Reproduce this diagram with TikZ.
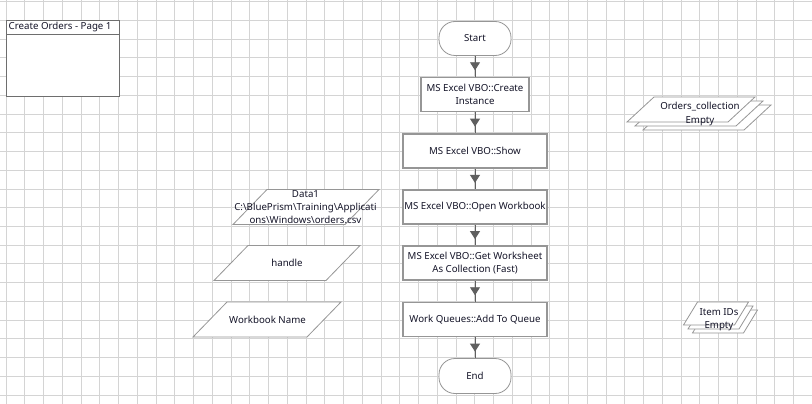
\documentclass[tikz,border=0pt]{standalone}
\usepackage{fontspec}
\setmainfont{Noto Sans}
\usetikzlibrary{arrows.meta,decorations.markings}
\definecolor{gridc}{RGB}{212,212,212}
\definecolor{boxc}{RGB}{150,150,150}
\definecolor{termc}{RGB}{150,150,150}
\definecolor{arrc}{RGB}{95,95,95}
\definecolor{titlec}{RGB}{110,110,110}
\definecolor{txtc}{RGB}{20,20,40}
% parallelogram: cx, cy, top width, height, slant
\newcommand\dataPara[6][]{%
  \draw[datashape,#1] ({#2-#4/2+#6/2},{#3-#5/2}) -- ({#2+#4/2+#6/2},{#3-#5/2})
    -- ({#2+#4/2-#6/2},{#3+#5/2}) -- ({#2-#4/2-#6/2},{#3+#5/2}) -- cycle;}
\begin{document}
\begin{tikzpicture}[x=1pt,y=-1pt,
  every node/.style={text=txtc},
  font=\fontsize{9.7}{13.3}\selectfont,
  proc/.style={draw=boxc, line width=1.6pt, fill=white, minimum width=144pt,
    minimum height=34pt, inner sep=0pt, align=center},
  term/.style={draw=termc, line width=0.8pt, rounded corners=16pt, fill=white,
    minimum width=72pt, minimum height=34pt, inner sep=0pt, align=center},
  link/.style={draw=arrc, line width=0.9pt, postaction={decorate},
    decoration={markings, mark=at position 0.5 with {\arrow[xshift=4pt]{Triangle[width=10pt,length=8pt]}}}},
  datashape/.style={draw=termc, line width=0.8pt, fill=white},
  lbl/.style={inner sep=0pt, align=center}
]
\useasboundingbox (0,0) rectangle (812,404);
\fill[white] (0,0) rectangle (812,404);
% grid
\foreach \k in {0,...,42} \draw[gridc, line width=1pt] ({6.2+18.75*\k},0) -- ({6.2+18.75*\k},404);
\foreach \k in {0,...,21} \draw[gridc, line width=1pt] (0,{1.7+18.73*\k}) -- (812,{1.7+18.73*\k});

% title box
\draw[titlec, line width=0.9pt, fill=white] (6.3,20.3) rectangle (119.3,96);
\draw[titlec, line width=0.9pt] (6.3,34) -- (119.3,34);
\node[lbl, anchor=west] (title) at (8.5,27.3) {Create Orders - Page 1};

% flow
\node[term] (start) at (475,38.5) {Start};
\node[proc, minimum width=108pt] (b1) at (475,94.5) {MS Excel VBO::Create\\Instance};
\node[proc] (b2) at (475,150.7) {MS Excel VBO::Show};
\node[proc] (b3) at (475,207) {MS Excel VBO::Open Workbook};
\node[proc] (b4) at (475,263.2) {MS Excel VBO::Get Worksheet\\As Collection (Fast)};
\node[proc] (b5) at (475,319.3) {Work Queues::Add To Queue};
\node[term, minimum height=35pt] (end) at (475,376) {End};

\draw[link] (start) -- (b1);
\draw[link] (b1) -- (b2);
\draw[link] (b2) -- (b3);
\draw[link] (b3) -- (b4);
\draw[link] (b4) -- (b5);
\draw[link] (b5) -- (end);

% data items
\dataPara{306}{207}{112}{35}{34}
\node[lbl] (data1) at (305.5,207) {Data1\\C:\textbackslash BluePrism\textbackslash Training\textbackslash Applicati\\ons\textbackslash Windows\textbackslash orders.csv};
\dataPara{287}{263}{112}{35}{34}
\node[lbl] (handle) at (287,263) {handle};
\dataPara{267}{319.5}{114}{35}{34}
\node[lbl] (wbname) at (267.5,319.5) {Workbook Name};

% collections
\dataPara{707}{117.5}{101}{25}{27}
\dataPara{699}{113.5}{101}{25}{27}
\dataPara{691}{109.5}{101}{25}{27}
\node[lbl, font=\fontsize{9.7}{14}\selectfont] (orders) at (700,114) {Orders\_collection\\Empty};

\dataPara{725}{321.5}{51}{23}{14}
\dataPara{720.5}{317.5}{51}{23}{14}
\dataPara{716}{313.5}{51}{23}{14}
\node[lbl] (itemids) at (719,319.5) {Item IDs\\Empty};
\end{tikzpicture}
\end{document}
